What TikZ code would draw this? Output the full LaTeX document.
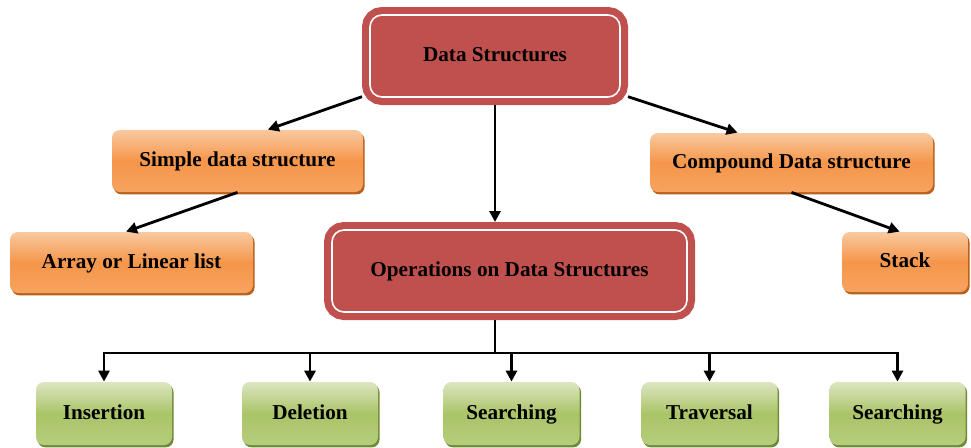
\documentclass[tikz,border=0pt]{standalone}
\usepackage{fontspec}
\setmainfont{Liberation Serif}
\usetikzlibrary{arrows.meta}
\usetikzlibrary{positioning}
\usetikzlibrary{shadows}
\usetikzlibrary{calc}

\definecolor{boxred}{HTML}{C0504D}
\definecolor{orangetop}{HTML}{F9C9A0}
\definecolor{orangemid}{HTML}{F5964A}
\definecolor{orangebot}{HTML}{F6A360}
\definecolor{orangeedge}{HTML}{B8601C}
\definecolor{greentop}{HTML}{DCE6C2}
\definecolor{greenmid}{HTML}{AAC467}
\definecolor{greenbot}{HTML}{B6CD7C}
\definecolor{greenedge}{HTML}{6F8B38}

\tikzset {
  syntax path/.style = {
    draw = black,
    line width = 1.4pt
  },
  % path style with an arrow at the end
  arr/.style = {
    syntax path,
    -{Triangle[length = 5.5pt, width = 5.5pt]}
  },
  % path style with no arrows
  narr/.style = {
    syntax path
  }
}
\tikzset {
  box node/.style = {
    rectangle,
    align = center,
    inner sep = 0pt,
    text height = 1.6ex,
    text depth = 0.4ex,
    font = \fontsize{10.6}{12}\selectfont\bfseries
  },
  % red box with a white inner line
  main/.style = {
    box node,
    fill = boxred,
    draw = white,
    line width = 0.8pt,
    rounded corners = 6pt,
    outer sep = 4pt,
    preaction = {draw = boxred, line width = 8pt}
  },
  % kind of data structure
  kind/.style = {
    box node,
    rounded corners = 4pt,
    top color = orangetop,
    bottom color = orangebot,
    middle color = orangemid,
    drop shadow = {shadow xshift = 0.8pt, shadow yshift = -1.2pt,
      fill = orangeedge, opacity = 1}
  },
  % operation
  oper/.style = {
    box node,
    rounded corners = 4pt,
    top color = greentop,
    bottom color = greenbot,
    middle color = greenmid,
    minimum width = 68pt,
    minimum height = 31.5pt,
    drop shadow = {shadow xshift = 0.8pt, shadow yshift = -1.2pt,
      fill = greenedge, opacity = 1}
  }
}

\begin{document}
\begin{tikzpicture}[x = 0.5pt, y = -0.5pt]
    \fill[white] (0,0) rectangle (971,447);
    \useasboundingbox (0,0) rectangle (971,447);

    \node[main, minimum width = 125pt, minimum height = 41pt] (ds) at (495,56) {Data Structures};
    \node[main, minimum width = 177.5pt, minimum height = 41pt] (ops) at (509.5,271) {Operations on Data Structures};

    \node[kind, minimum width = 125.5pt, minimum height = 31pt] (simple) at (237.5,161) {Simple data structure};
    \node[kind, minimum width = 121.5pt, minimum height = 30.5pt] (array) at (131.5,262.5) {Array or Linear list};
    \node[kind, minimum width = 141.5pt, minimum height = 29.5pt] (compound) at (791.5,162.5) {Compound Data structure};
    \node[kind, minimum width = 63pt, minimum height = 30pt] (stack) at (905,262) {Stack};

    \node[oper] (ins) at (104,413.5) {Insertion};
    \node[oper] (del) at (310,413.5) {Deletion};
    \node[oper] (srch) at (511.5,413.5) {Searching};
    \node[oper] (trav) at (709.5,413.5) {Traversal};
    \node[oper] (srchb) at (897.5,413.5) {Searching};

    \coordinate (bus) at ($(ds.south |- ops.south)+(0,33)$);

    \draw[arr] (ds.197) -- (simple.46);
    \draw[arr] (ds.343) -- (compound.151);
    \draw[arr] (ds.south) -- (ds.south |- ops.north);
    \draw[arr] (simple.south) -- (array.100);
    \draw[arr] (compound.south) -- (stack.100);

    \draw[narr] (ds.south |- ops.south) -- (bus);
    \draw[arr] (bus) -| (ins.north);
    \draw[arr] (bus) -| (del.north);
    \draw[arr] (bus) -| (srch.north);
    \draw[arr] (bus) -| (trav.north);
    \draw[arr] (bus) -| (srchb.north);
  \end{tikzpicture}
\end{document}
